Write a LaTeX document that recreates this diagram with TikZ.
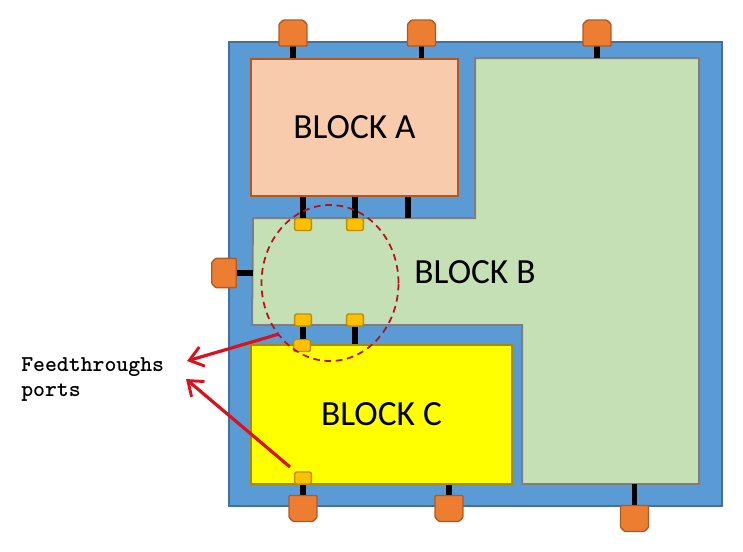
\documentclass[tikz,border=0pt]{standalone}
\usepackage{fontspec}
\setmainfont{Carlito}
\usetikzlibrary{arrows.meta, positioning, shapes.geometric}

\definecolor{chipfill}{HTML}{5B9BD5}
\definecolor{chipline}{HTML}{41719C}
\definecolor{blockafill}{HTML}{F8CBAD}
\definecolor{blockaline}{HTML}{AE5A21}
\definecolor{blockbfill}{HTML}{C5E0B4}
\definecolor{blockbline}{HTML}{7F7F7F}
\definecolor{blockcfill}{HTML}{FFFF00}
\definecolor{blockcline}{HTML}{A58A10}
\definecolor{portfill}{HTML}{ED7D31}
\definecolor{portline}{HTML}{AE5A21}
\definecolor{ftfill}{HTML}{FFC000}
\definecolor{ftline}{HTML}{B8900A}
\definecolor{callout}{HTML}{D9121F}

\tikzset{
  blockbox/.style={draw, line width=1.3pt, inner sep=0pt, font=\fontsize{26.5}{30}\selectfont},
  iopad/.style={rectangle, inner sep=0pt, minimum width=20.5pt, minimum height=19pt},
  iopadline/.style={draw=portline, fill=portfill, line width=1pt, rounded corners=0.6pt},
  ftport/.style={rectangle, rounded corners=1.5pt, draw=ftline, fill=ftfill, line width=1.1pt,
    inner sep=0pt, minimum width=12.5pt, minimum height=9pt},
  wire/.style={line width=4.2pt, black},
  pointer/.style={line width=2.4pt, callout, -{Straight Barb[length=10pt,width=15pt,line width=2.2pt]}}
}

% Pad outlines, cut at the two outer corners
\newcommand{\padtop}[1]{\draw[iopadline] (#1.south west) -- ([yshift=-3pt]#1.north west) -- ([xshift=3pt]#1.north west) -- ([xshift=-3pt]#1.north east) -- ([yshift=-3pt]#1.north east) -- (#1.south east) -- cycle;}
\newcommand{\padbot}[1]{\draw[iopadline] (#1.north west) -- ([yshift=3pt]#1.south west) -- ([xshift=3pt]#1.south west) -- ([xshift=-3pt]#1.south east) -- ([yshift=3pt]#1.south east) -- (#1.north east) -- cycle;}
\newcommand{\padleft}[1]{\draw[iopadline] (#1.north east) -- ([xshift=3pt]#1.north west) -- ([yshift=-3pt]#1.north west) -- ([yshift=3pt]#1.south west) -- ([xshift=3pt]#1.south west) -- (#1.south east) -- cycle;}

\begin{document}
\begin{tikzpicture}[x=0.75pt, y=-0.75pt]
  \useasboundingbox (0,0) rectangle (743,551);

  % Chip outline
  \draw[fill=chipfill, draw=chipline, line width=1.6pt] (229,42) rectangle (722,506);

  % Blocks
  \node[blockbox, draw=blockaline, fill=blockafill, minimum width=155.25pt, minimum height=102.75pt]
    (blockA) at (354.5,127.5) {\raisebox{-1.5pt}{BLOCK A}};
  \draw[fill=blockbfill, draw=blockbline, line width=1.5pt]
    (475,58) -- (699,58) -- (699,484) -- (522,484) -- (522,325) -- (252,325) -- (253,218) -- (475,218) -- cycle;
  \node[font=\fontsize{26.5}{30}\selectfont] (blockB) at (475,272) {BLOCK B};
  \node[blockbox, draw=blockcline, fill=blockcfill, minimum width=195.75pt, minimum height=104.25pt]
    (blockC) at (381.5,414.5) {BLOCK C};

  % Points on the edges of block B
  \coordinate (bTop) at (408,218);
  \coordinate (bTopRight) at (597,58);
  \coordinate (bLeft) at (252.5,273);
  \coordinate (bBottom) at (634.5,484);

  % Top pads
  \node[iopad] (padTopA) at (293,33) {};
  \node[iopad] (padTopB) at (421.5,33) {};
  \node[iopad] (padTopC) at (597,33) {};
  % Left pad
  \node[iopad, minimum width=18pt, minimum height=21.5pt] (padLeft) at (224,273) {};
  % Bottom pads
  \node[iopad] (padBotA) at (303,508.5) {};
  \node[iopad] (padBotB) at (449,508.5) {};
  \node[iopad] (padBotC) at (634.5,518.5) {};

  % Feedthrough ports
  \node[ftport] (ftTopA) at (303,224.5) {};
  \node[ftport] (ftTopB) at (355,224.5) {};
  \node[ftport] (ftMidA) at (303,320) {};
  \node[ftport] (ftMidB) at (355,320) {};
  \node[ftport] (ftBlkC) at (302,345.5) {};
  \node[ftport] (ftBotC) at (303,478) {};

  % Wires
  \draw[wire] (padTopA.south) -- (padTopA.south |- blockA.north);
  \draw[wire] (padTopB.south) -- (padTopB.south |- blockA.north);
  \draw[wire] (padTopC.south) -- (bTopRight);
  \draw[wire] (ftTopA.north) -- (ftTopA.north |- blockA.south);
  \draw[wire] (ftTopB.north) -- (ftTopB.north |- blockA.south);
  \draw[wire] (bTop) -- (bTop |- blockA.south);
  \draw[wire] (padLeft.east) -- (bLeft);
  \draw[wire] (ftMidA.south) -- (ftMidA.south |- ftBlkC.north);
  \draw[wire] (ftMidB.south) -- (ftMidB.south |- blockC.north);
  \draw[wire] (ftBotC.south) -- (padBotA.north);
  \draw[wire] (padBotB.north) -- (padBotB.north |- blockC.south);
  \draw[wire] (padBotC.north) -- (bBottom);

  % Pad outlines over the wires
  \padtop{padTopA}
  \padtop{padTopB}
  \padtop{padTopC}
  \padleft{padLeft}
  \padbot{padBotA}
  \padbot{padBotB}
  \padbot{padBotC}

  % Dashed ring
  \node[ellipse, draw=callout!85!black, dash pattern=on 5pt off 3.5pt, line width=1.3pt, inner sep=0pt,
    minimum width=102.75pt, minimum height=117pt] (ring) at (330,283) {};

  % Label
  \node[anchor=north west, align=left, inner sep=0pt, font=\ttfamily\bfseries\fontsize{17}{18.75}\selectfont]
    (ftLabel) at (21,357) {Feedthroughs\\ports};

  % Pointers
  \coordinate (tipUpper) at (187,361);
  \coordinate (tipLower) at (186,379);
  \coordinate (tailUpper) at (279,334);
  \coordinate (tailLower) at (290,467);
  \draw[pointer] (tailUpper) -- (tipUpper);
  \draw[pointer] (tailLower) -- (tipLower);
\end{tikzpicture}
\end{document}
